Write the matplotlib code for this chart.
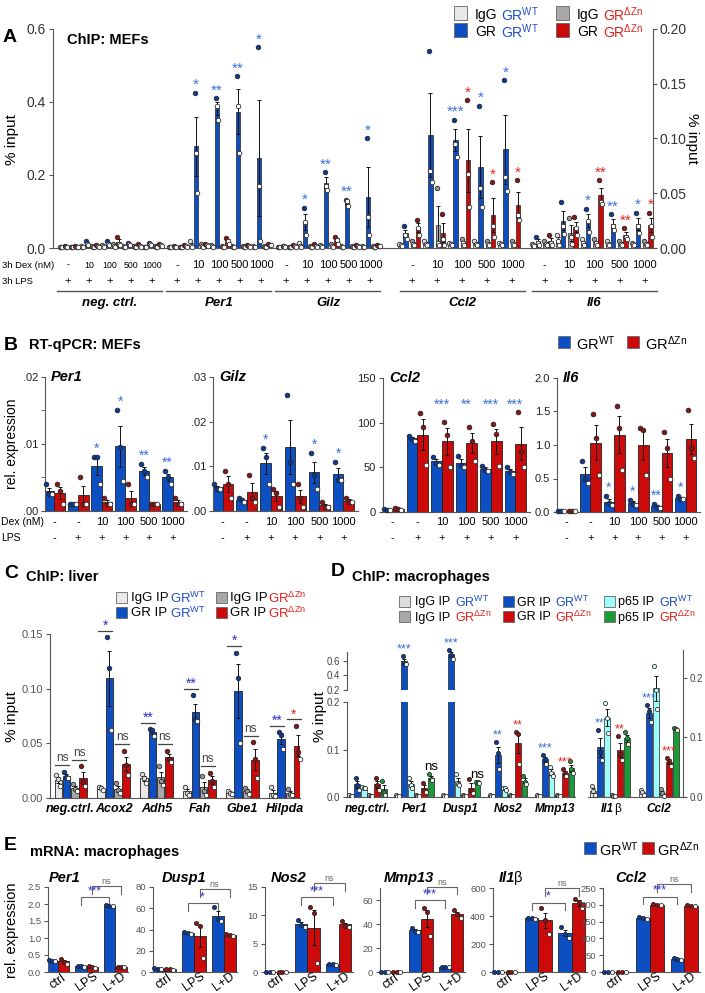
import numpy as np
import matplotlib
matplotlib.use('Agg')
import matplotlib.pyplot as plt
from matplotlib.transforms import blended_transform_factory as blend
from matplotlib.patches import Rectangle

plt.rcParams['font.family'] = ['Liberation Sans', 'DejaVu Sans']
plt.rcParams['mathtext.fontset'] = 'custom'
plt.rcParams['mathtext.rm'] = 'Liberation Sans'
plt.rcParams['mathtext.it'] = 'Liberation Sans:italic'
plt.rcParams['mathtext.bf'] = 'Liberation Sans:bold'

# ======================= DATA =======================
DEX_A = ['-', '10', '100', '500', '1000']
A_GENES_L = ['neg. ctrl.', 'Per1', 'Gilz']
A_GENES_R = ['Ccl2', 'Il6']
# Panel A: ChIP MEFs (% input), 5 Dex doses x 3 replicates
A_neg_igg_wt = [[.004,.003,.002],[.005,.004,.002],[.008,.005,.003],[.005,.004,.003],[.004,.003,.002]]
A_neg_gr_wt  = [[.006,.004,.003],[.020,.010,.007],[.020,.012,.009],[.015,.010,.007],[.013,.010,.007]]
A_neg_igg_dz = [[.004,.003,.002],[.005,.004,.003],[.012,.006,.003],[.005,.003,.002],[.005,.004,.003]]
A_neg_gr_dz  = [[.006,.004,.003],[.008,.005,.003],[.030,.012,.008],[.010,.006,.004],[.010,.008,.006]]
A_per1_igg_wt = [[.004,.003,.002],[.020,.005,.003],[.008,.005,.003],[.006,.004,.003],[.005,.004,.003]]
A_per1_gr_wt  = [[.006,.004,.003],[.425,.26,.15],[.41,.39,.35],[.47,.39,.26],[.55,.17,.02]]
A_per1_igg_dz = [[.004,.003,.002],[.010,.005,.003],[.006,.004,.003],[.005,.004,.003],[.005,.004,.003]]
A_per1_gr_dz  = [[.007,.005,.004],[.012,.008,.006],[.028,.020,.012],[.008,.006,.004],[.012,.009,.007]]
A_gilz_igg_wt = [[.004,.003,.002],[.015,.006,.003],[.008,.005,.003],[.006,.004,.003],[.005,.004,.003]]
A_gilz_gr_wt  = [[.006,.005,.004],[.11,.07,.035],[.207,.17,.16],[.132,.13,.115],[.30,.085,.035]]
A_gilz_igg_dz = [[.004,.003,.002],[.006,.004,.003],[.010,.006,.004],[.005,.004,.003],[.005,.004,.003]]
A_gilz_gr_dz  = [[.008,.006,.004],[.010,.006,.004],[.030,.022,.010],[.008,.006,.004],[.008,.006,.005]]
A_ccl2_igg_wt = [[.004,.003,.002],[.006,.004,.003],[.005,.004,.003],[.006,.004,.003],[.005,.004,.003]]
A_ccl2_gr_wt  = [[.020,.012,.008],[.18,.07,.06],[.117,.095,.083],[.13,.055,.037],[.153,.065,.052]]
A_ccl2_igg_dz = [[.006,.004,.003],[.055,.005,.003],[.008,.005,.003],[.006,.004,.003],[.006,.004,.003]]
A_ccl2_gr_dz  = [[.026,.018,.012],[.031,.008,.003],[.135,.068,.037],[.060,.020,.010],[.062,.030,.026]]
A_il6_igg_wt = [[.004,.003,.002],[.012,.006,.003],[.008,.005,.003],[.006,.004,.003],[.005,.004,.003]]
A_il6_gr_wt  = [[.010,.005,.003],[.042,.020,.013],[.036,.025,.015],[.031,.020,.016],[.032,.020,.014]]
A_il6_igg_dz = [[.006,.004,.003],[.027,.010,.004],[.008,.005,.003],[.006,.004,.003],[.006,.004,.003]]
A_il6_gr_dz  = [[.012,.005,.003],[.028,.018,.012],[.062,.042,.040],[.018,.010,.008],[.032,.020,.010]]
A_neg_star_wt = ['', '', '', '', '']
A_neg_star_dz = ['', '', '', '', '']
A_per1_star_wt = ['', '*', '**', '**', '*']
A_per1_star_dz = ['', '', '', '', '']
A_gilz_star_wt = ['', '*', '**', '**', '*']
A_gilz_star_dz = ['', '', '', '', '']
A_ccl2_star_wt = ['', '', '***', '*', '*']
A_ccl2_star_dz = ['', '', '*', '*', '*']
A_il6_star_wt = ['', '', '*', '**', '*']
A_il6_star_dz = ['', '', '**', '**', '*']

# Panel B: RT-qPCR MEFs (rel. expression), 6 conditions x 3 replicates
DEX_B = ['-', '-', '10', '100', '500', '1000']
LPS_B = ['-', '+', '+', '+', '+', '+']
B_GENES = ['Per1', 'Gilz', 'Ccl2', 'Il6']
B_per1_wt = [[.004,.0025,.0025],[.001,.001,.001],[.008,.008,.004],[.015,.0095,.0045],[.007,.006,.005],[.006,.005,.004]]
B_per1_dz = [[.004,.003,.001],[.005,.001,.001],[.002,.001,.001],[.004,.001,.001],[.001,.001,.001],[.002,.001,.001]]
B_gilz_wt = [[.006,.005,.005],[.003,.0025,.002],[.014,.012,.006],[.026,.011,.006],[.013,.008,.005],[.011,.007,.007]]
B_gilz_dz = [[.009,.006,.003],[.008,.003,.002],[.005,.004,.001],[.006,.003,.001],[.002,.001,.001],[.003,.002,.002]]
B_ccl2_wt = [[3,2,2],[85,82,80],[62,55,53],[63,53,50],[52,47,46],[50,45,43]]
B_ccl2_dz = [[4,3,2],[111,95,53],[101,86,50],[95,80,57],[98,87,52],[112,67,50]]
B_il6_wt = [[.01,.01,.01],[.76,.50,.44],[.24,.13,.10],[.18,.12,.10],[.12,.07,.06],[.24,.20,.20]]
B_il6_dz = [[.01,.01,.01],[1.46,1.10,.55],[1.58,1.25,.63],[1.25,1.22,.55],[1.20,.95,.50],[1.52,.95,.80]]
B_per1_star = ['', '', '*', '*', '**', '**']
B_gilz_star = ['', '', '*', '', '*', '*']
B_ccl2_star = ['', '', '***', '**', '***', '***']
B_il6_star = ['', '', '*', '*', '**', '*']

# Panel C: ChIP liver (% input), 6 loci x 3 replicates
C_GENES = ['neg.ctrl.', 'Acox2', 'Adh5', 'Fah', 'Gbe1', 'Hilpda']
C_igg_wt = [[.021,.017,.011],[.010,.009,.007],[.022,.018,.014],[.010,.005,.003],[.006,.005,.004],[.010,.003,.002]]
C_gr_wt  = [[.024,.019,.018],[.147,.119,.062],[.063,.062,.057],[.094,.072,.070],[.133,.110,.050],[.060,.058,.045]]
C_igg_dz = [[.013,.008,.006],[.014,.007,.005],[.029,.016,.012],[.020,.006,.003],[.009,.006,.004],[.008,.004,.003]]
C_gr_dz  = [[.029,.015,.011],[.043,.030,.021],[.043,.036,.033],[.023,.016,.010],[.051,.036,.018],[.066,.042,.036]]
C_sig_wt = ['ns', '*', '**', '**', '*', '**']
C_sig_dz = ['ns', 'ns', 'ns', 'ns', 'ns', '*']

# Panel D: ChIP macrophages (% input)
D_GENES_L = ['neg.ctrl.', 'Per1', 'Dusp1', 'Nos2', 'Mmp13']
D_GENES_R = ['Il1', 'Ccl2']
D_igg_wt_L = [[.005,.003,.002],[.005,.003,.002],[.005,.003,.002],[.005,.003,.002],[.005,.003,.002]]
D_gr_wt_L  = [[.040,.025,.015],[.66,.57,.55],[.75,.68,.63],[.115,.092,.059],[.088,.080,.070]]
D_p65_wt_L = [[.022,.020,.018],[.040,.025,.018],[.048,.028,.025],[.020,.018,.015],[.064,.050,.045]]
D_igg_dz_L = [[.005,.003,.002],[.005,.003,.002],[.005,.003,.002],[.005,.003,.002],[.005,.003,.002]]
D_gr_dz_L  = [[.040,.026,.014],[.030,.015,.010],[.038,.014,.008],[.137,.133,.070],[.059,.050,.045]]
D_p65_dz_L = [[.034,.010,.004],[.049,.037,.035],[.032,.031,.030],[.045,.031,.028],[.075,.058,.050]]
D_igg_wt_R = [[.018,.010,.004],[.012,.008,.004]]
D_gr_wt_R  = [[.113,.075,.062],[.154,.145,.126]]
D_p65_wt_R = [[.158,.133,.108],[.220,.180,.148]]
D_igg_dz_R = [[.004,.002,.001],[.014,.006,.002]]
D_gr_dz_R  = [[.103,.072,.062],[.066,.060,.052]]
D_p65_dz_R = [[.109,.099,.089],[.116,.114,.112]]
D_star_gr_wt_L = ['', '***', '***', '**', '***']
D_star_gr_dz_L = ['', '', '', '**', '***']
D_star_p65_dz_L = ['', 'ns', 'ns', '', '']
D_star_gr_wt_R = ['**', '***']
D_star_gr_dz_R = ['**', '***']

# Panel E: mRNA macrophages (rel. expression), ctrl / LPS / L+D x 3 replicates
E_GENES = ['Per1', 'Dusp1', 'Nos2', 'Mmp13', 'Il1', 'Ccl2']
E_COND = ['ctrl', 'LPS', 'L+D']
E_per1_wt = [[.35,.32,.31],[.18,.17,.16],[1.97,1.95,1.93]]
E_per1_dz = [[.38,.30,.25],[.17,.15,.13],[.16,.15,.14]]
E_dusp1_wt = [[3.5,3.0,2.5],[38,37,36],[61,50,48]]
E_dusp1_dz = [[3.0,2.5,2.0],[46,43,13],[36,35,34]]
E_nos2_wt = [[.05,.04,.03],[9.2,8.3,8.0],[1.5,1.4,1.3]]
E_nos2_dz = [[.05,.04,.03],[11.5,10.4,1.6],[9.0,8.2,8.0]]
E_mmp13_wt = [[.3,.2,.2],[37,34,33],[4.5,4.0,3.8]]
E_mmp13_dz = [[.3,.2,.2],[53,50,30],[52,48,45]]
E_il1b_wt = [[2,1.5,1],[388,385,382],[320,275,245]]
E_il1b_dz = [[2,1.5,1],[460,370,275],[525,500,455]]
E_ccl2_wt = [[1,.8,.6],[165,160,158],[43,38,37]]
E_ccl2_dz = [[1,.8,.6],[202,200,198],[200,197,195]]
E_ymax = [2.5, 80, 15, 70, 600, 250]
E_yticks = [[0,.5,1,1.5,2,2.5],[0,20,40,60,80],[0,5,10,15],[0,20,40,60],[0,200,400,600],[0,50,100,150,200,250]]
E_sig = ['***', '*', '***', '***', '*', '***']
E_br_lo = [2.2, 65, 13.2, 60, 494, 224]
E_br_hi = [2.53, 78, 15.7, 71, 600, 262]

# ======================= STYLE =======================
BLUE = '#0c4fc2'; RED = '#cc0a0a'; LGRAY = '#e8e8e8'; GRAY = '#a8a8a8'
CYAN = '#9ffcfc'; GREEN = '#1b9a3a'
DBLUE = '#0a3a9a'; DRED = '#8b1414'
SBLUE = '#3b6fd6'; SRED = '#e3261f'; SBLUE2 = '#2f2fcc'
TXTB = '#1f4fc9'; TXTR = '#e0201a'
SUPW = r'GR$^{\mathregular{WT}}$'
SUPD = r'GR$^{\mathregular{ΔZn}}$'

W, H = 705, 993
fig = plt.figure(figsize=(W/100, H/100), dpi=100)


def AX(x0, y0, x1, y1):
    return fig.add_axes([x0/W, 1-y1/H, (x1-x0)/W, (y1-y0)/H])


def T(x, y, s, **kw):
    kw.setdefault('va', 'center')
    return fig.text(x/W, 1-y/H, s, **kw)


def style(ax, left=True, right=False, bottom=True, fs=8, tc='#333'):
    for side in ['top', 'right', 'left', 'bottom']:
        ax.spines[side].set_visible(False)
    ax.spines['left'].set_visible(left)
    ax.spines['right'].set_visible(right)
    ax.spines['bottom'].set_visible(bottom)
    for s in ax.spines.values():
        s.set_color('#555'); s.set_linewidth(0.8)
    ax.tick_params(axis='y', labelsize=fs, labelcolor=tc, color='#555', length=3, width=0.8,
                   left=left, right=right, labelleft=left, labelright=right, pad=2)
    ax.tick_params(axis='x', bottom=False, labelbottom=False)
    ax.patch.set_alpha(0)


def bars(ax, xs, reps, color, width, dot, filled=(True, True, False), ms=3.4, stars=None,
         scol=None, sfs=10, spad=1.0, clip=False, lw=0.6):
    reps = np.asarray(reps, float)
    m = reps.mean(1)
    s = reps.std(1, ddof=1) / np.sqrt(reps.shape[1])
    ax.bar(xs, m, width, color=color, edgecolor='#222', linewidth=lw, zorder=2)
    ax.errorbar(xs, m, yerr=s, fmt='none', ecolor='#111', elinewidth=0.7, capsize=1.6,
                capthick=0.7, zorder=3)
    jit = np.array([-0.28, 0.0, 0.28]) * width
    for i, x in enumerate(xs):
        for j, v in enumerate(reps[i]):
            fc = dot if filled[j] else 'white'
            ax.plot(x + jit[j], v, 'o', ms=ms, mfc=fc, mec='#222', mew=0.55, zorder=4,
                    clip_on=clip)
    if stars:
        for i, x in enumerate(xs):
            if stars[i]:
                top = max(reps[i].max(), m[i] + s[i])
                ax.annotate(stars[i], (x, top), xytext=(0, spad), textcoords='offset points',
                            ha='center', va='bottom', color=scol, fontsize=sfs,
                            annotation_clip=False, zorder=5)
    return m, s


def xlab(ax, x, ypx, s, **kw):
    ax.text(x, 1-ypx/H, s, transform=blend(ax.transData, fig.transFigure), ha='center',
            va='center', clip_on=False, **kw)


def hline(ax, x0, x1, ypx, **kw):
    ax.plot([x0, x1], [1-ypx/H]*2, transform=blend(ax.transData, fig.transFigure),
            clip_on=False, **kw)


def square(x, y, size, color):
    fig.patches.append(Rectangle(((x-size/2)/W, 1-(y+size/2)/H), size/W, size/H,
                                 transform=fig.transFigure, facecolor=color,
                                 edgecolor='#666', lw=0.6))


def leg(x, y, color, parts, fs, size=12):
    square(x, y, size, color)
    for tx, s, c in parts:
        T(tx, y, s, color=c, fontsize=fs, ha='left', va='center_baseline')

# ======================= PANEL A =======================
T(3, 37, 'A', fontsize=14, fontweight='bold')
T(67, 40, 'ChIP: MEFs', fontsize=10.5, fontweight='bold')
leg(460, 13, LGRAY, [(475, 'IgG', 'black'), (501, SUPW, TXTB)], 10, 13)
leg(460, 30, BLUE, [(475, 'GR', 'black'), (501, SUPW, TXTB)], 10, 13)
leg(562, 13, GRAY, [(577, 'IgG', 'black'), (603, SUPD, TXTR)], 10, 13)
leg(562, 30, RED, [(577, 'GR', 'black'), (603, SUPD, TXTR)], 10, 13)

axAL = AX(53, 29, 392, 248)
axAR = AX(392, 29, 653, 248)
style(axAL, fs=10)
style(axAR, left=False, right=True, fs=10)
axAL.set_ylim(0, 0.6); axAL.set_yticks([0, .2, .4, .6]); axAL.set_yticklabels(['0.0', '0.2', '0.4', '0.6'])
axAR.set_ylim(0, 0.2); axAR.set_yticks([0, .05, .1, .15, .2])
axAR.set_yticklabels(['0.00', '0.05', '0.10', '0.15', '0.20'])
axAL.set_xlim(-0.71, 15.43); axAR.set_xlim(-0.8, 9.64)
T(12, 140, '% input', fontsize=11, rotation=90, ha='center')
T(692, 138, '% input', fontsize=11, rotation=270, ha='center')
T(2, 265, '3h Dex (nM)', fontsize=6.8, ha='left')
T(2, 281, '3h LPS', fontsize=6.8, ha='left')

A_sets_L = [
    (A_neg_igg_wt, A_neg_gr_wt, A_neg_igg_dz, A_neg_gr_dz, A_neg_star_wt, A_neg_star_dz),
    (A_per1_igg_wt, A_per1_gr_wt, A_per1_igg_dz, A_per1_gr_dz, A_per1_star_wt, A_per1_star_dz),
    (A_gilz_igg_wt, A_gilz_gr_wt, A_gilz_igg_dz, A_gilz_gr_dz, A_gilz_star_wt, A_gilz_star_dz)]
A_sets_R = [
    (A_ccl2_igg_wt, A_ccl2_gr_wt, A_ccl2_igg_dz, A_ccl2_gr_dz, A_ccl2_star_wt, A_ccl2_star_dz),
    (A_il6_igg_wt, A_il6_gr_wt, A_il6_igg_dz, A_il6_gr_dz, A_il6_star_wt, A_il6_star_dz)]

for ax, sets, genes, starts, offs, wid in [
        (axAL, A_sets_L, A_GENES_L, [0, 5.19, 10.38], [-0.33, -0.1, 0.19, 0.42], 0.22),
        (axAR, A_sets_R, A_GENES_R, [0, 5.3], [-0.46, -0.27, 0.04, 0.24], 0.18)]:
    for gi, (st, gname, data) in enumerate(zip(starts, genes, sets)):
        x = st + np.arange(5)
        cols = [LGRAY, BLUE, GRAY, RED]
        dots = ['#dddddd', DBLUE, '#999999', DRED]
        for k in range(4):
            stars = data[4] if k == 1 else (data[5] if k == 3 else None)
            scol = SBLUE if k == 1 else SRED
            bars(ax, x + offs[k], data[k], cols[k], wid, dots[k], filled=(True, False, False),
                 ms=3.3, stars=stars, scol=scol, sfs=11, spad=0.5, lw=0.5)
        fsd = 6.3 if gname.startswith('neg') else 8
        for c in range(5):
            xlab(ax, x[c], 265, DEX_A[c], fontsize=fsd)
            xlab(ax, x[c], 281, '+', fontsize=8)
        hline(ax, x[0]-0.5, x[-1]+0.5, 291, color='#555', lw=1)
        xlab(ax, x[2], 303, gname, fontsize=9.5, fontstyle='italic', fontweight='bold')

# ======================= PANEL B =======================
T(4, 345, 'B', fontsize=14, fontweight='bold')
T(29, 345, 'RT-qPCR: MEFs', fontsize=10.5, fontweight='bold')
leg(564, 342, BLUE, [(576, SUPW, 'black')], 10.5, 12)
leg(633, 342, RED, [(645, SUPD, 'black')], 10.5, 12)
T(12, 444, 'rel. expression', fontsize=10, rotation=90, ha='center')
T(1, 522, 'Dex (nM)', fontsize=7.5, ha='left')
T(1, 538, 'LPS', fontsize=7.5, ha='left')

B_axes_px = [(45, 377, 187, 511), (213, 377, 358, 511), (383, 378, 530, 512), (557, 378, 700, 512)]
B_lims = [(0.02, [0, .01, .02], ['.00', '.01', '.02']),
          (0.03, [0, .01, .02, .03], ['.00', '.01', '.02', '.03']),
          (150, [0, 50, 100, 150], ['0', '50', '100', '150']),
          (2.0, [0, .5, 1, 1.5, 2], ['0.0', '0.5', '1.0', '1.5', '2.0'])]
B_data = [(B_per1_wt, B_per1_dz, B_per1_star), (B_gilz_wt, B_gilz_dz, B_gilz_star),
          (B_ccl2_wt, B_ccl2_dz, B_ccl2_star), (B_il6_wt, B_il6_dz, B_il6_star)]
for bi in range(4):
    ax = AX(*B_axes_px[bi])
    style(ax, fs=8, tc='#222')
    ymax, tks, tls = B_lims[bi]
    ax.set_ylim(0, ymax); ax.set_yticks(tks); ax.set_yticklabels(tls)
    if bi == 0:
        ax.set_yticks([.005, .015], minor=True)
        ax.tick_params(axis='y', which='minor', length=3, color='#555')
    ax.set_xlim(-0.4, 5.6)
    x = np.arange(6)
    wt, dz, st = B_data[bi]
    if bi == 2:
        bars(ax, x-0.22, wt, BLUE, 0.44, DBLUE)
        for i, s in enumerate(st):
            if s:
                ax.text(x[i], 112, s, ha='center', va='bottom', color=SBLUE, fontsize=10)
    else:
        bars(ax, x-0.22, wt, BLUE, 0.44, DBLUE, stars=st, scol=SBLUE, sfs=10, spad=1)
    bars(ax, x+0.22, dz, RED, 0.44, DRED)
    ax.text(0.04, 1.0, B_GENES[bi], transform=ax.transAxes, fontsize=10.5, fontstyle='italic',
            fontweight='bold', ha='left', va='center')
    for c in range(6):
        xlab(ax, x[c], 522, DEX_B[c], fontsize=8)
        xlab(ax, x[c], 538, LPS_B[c], fontsize=8)

# ======================= PANEL C =======================
T(4, 573, 'C', fontsize=14, fontweight='bold')
T(26, 577, 'ChIP: liver', fontsize=10.5, fontweight='bold')
leg(122, 597, LGRAY, [(131, 'IgG IP', 'black'), (170, SUPW, TXTB)], 9.5, 11)
leg(122, 612, BLUE, [(131, 'GR IP', 'black'), (170, SUPW, TXTB)], 9.5, 11)
leg(221, 597, GRAY, [(230, 'IgG IP', 'black'), (268, SUPD, TXTR)], 9.5, 11)
leg(221, 612, RED, [(230, 'GR IP', 'black'), (268, SUPD, TXTR)], 9.5, 11)
axC = AX(50, 634, 300, 798)
style(axC, fs=8, tc='#555')
axC.set_ylim(0, 0.15); axC.set_yticks([0, .05, .1, .15])
axC.set_yticklabels(['0.00', '0.05', '0.10', '0.15'])
axC.set_xlim(-0.48, 5.34)
T(12, 717, '% input', fontsize=11, rotation=90, ha='center')
xc = np.arange(6)
offC = [-0.29, -0.1, 0.1, 0.29]
mC = []
for k, (d, col, dot) in enumerate([(C_igg_wt, LGRAY, '#dddddd'), (C_gr_wt, BLUE, DBLUE),
                                    (C_igg_dz, GRAY, '#999999'), (C_gr_dz, RED, DRED)]):
    m, s = bars(axC, xc + offC[k], d, col, 0.17, dot, ms=3.3)
    mC.append(np.maximum(np.asarray(d).max(1), m + s))
for i in range(6):
    for pair, sig, scol in [((0, 1), C_sig_wt[i], SBLUE2), ((2, 3), C_sig_dz[i], SRED)]:
        top = max(mC[pair[0]][i], mC[pair[1]][i]) + 0.006
        xa, xb = xc[i] + offC[pair[0]] - 0.07, xc[i] + offC[pair[1]] + 0.07
        axC.plot([xa, xb], [top, top], color='#444', lw=0.9, clip_on=False)
        if sig == 'ns':
            axC.text((xa+xb)/2, top + 0.001, 'ns', ha='center', va='bottom', color='#444', fontsize=8.5)
        else:
            axC.text((xa+xb)/2, top - 0.002, sig, ha='center', va='bottom', color=scol, fontsize=10)
    xlab(axC, xc[i], 809, C_GENES[i], fontsize=9, fontstyle='italic', fontweight='bold')

# ======================= PANEL D =======================
T(331, 572, 'D', fontsize=14, fontweight='bold')
T(352, 577, 'ChIP: macrophages', fontsize=10.5, fontweight='bold')
leg(404, 601, '#dcdcdc', [(415, 'IgG IP', 'black'), (455, SUPW, TXTB)], 9, 11)
leg(404, 616, GRAY, [(415, 'IgG IP', 'black'), (455, SUPD, TXTR)], 9, 11)
leg(508, 601, BLUE, [(517, 'GR IP', 'black'), (555, SUPW, TXTB)], 9, 11)
leg(508, 616, RED, [(517, 'GR IP', 'black'), (555, SUPD, TXTR)], 9, 11)
leg(609, 601, CYAN, [(618, 'p65 IP', 'black'), (659, SUPW, TXTB)], 9, 11)
leg(609, 616, GREEN, [(618, 'p65 IP', 'black'), (659, SUPD, TXTR)], 9, 11)

axDU = AX(347, 652, 575, 690)
axDL = AX(347, 702, 575, 797)
axDR = AX(588, 650, 683, 797)
style(axDU, bottom=False, fs=7, tc='#444')
style(axDL, fs=7, tc='#444')
style(axDR, left=False, right=True, fs=7, tc='#444')
axDU.set_ylim(0.2, 0.72); axDU.set_yticks([.2, .4, .6]); axDU.set_yticklabels(['0.2', '0.4', '0.6'])
axDL.set_ylim(0, 0.2); axDL.set_yticks([0, .1, .2]); axDL.set_yticklabels(['0.0', '0.1', '0.2'])
axDR.set_ylim(0, 0.247); axDR.set_yticks([0, .1, .2]); axDR.set_yticklabels(['0.0', '0.1', '0.2'])
for a in (axDU, axDL):
    a.set_xlim(-0.43, 4.43)
axDR.set_xlim(-0.45, 1.49)
T(320, 717, '% input', fontsize=11, rotation=90, ha='center')
offD = (np.arange(6) - 2.5) * 0.142
wD = 0.12
D_cols = [LGRAY, BLUE, CYAN, GRAY, RED, GREEN]
D_dots = ['#dddddd', DBLUE, '#d8ffff', '#999999', DRED, GREEN]
xdl = np.arange(5)
D_L = [D_igg_wt_L, D_gr_wt_L, D_p65_wt_L, D_igg_dz_L, D_gr_dz_L, D_p65_dz_L]
D_LS = [None, [s if i not in (1, 2) else '' for i, s in enumerate(D_star_gr_wt_L)], None,
        None, D_star_gr_dz_L, D_star_p65_dz_L]
D_LC = [None, SBLUE, None, None, SRED, 'black']
for k in range(6):
    bars(axDL, xdl + offD[k], D_L[k], D_cols[k], wD, D_dots[k], ms=3.0, stars=D_LS[k],
         scol=D_LC[k], sfs=9 if k != 5 else 9.5, spad=0.5, clip=True, lw=0.5)
# broken (upper) segment for the very high GR WT bars
big = [1, 2]
bars(axDU, xdl[big] + offD[1], [D_gr_wt_L[i] for i in big], BLUE, wD, DBLUE, ms=3.0,
     stars=[D_star_gr_wt_L[i] for i in big], scol=SBLUE, sfs=9, spad=0.5, lw=0.5)
xdr = np.arange(2)
D_R = [D_igg_wt_R, D_gr_wt_R, D_p65_wt_R, D_igg_dz_R, D_gr_dz_R, D_p65_dz_R]
D_RS = [None, D_star_gr_wt_R, None, None, D_star_gr_dz_R, None]
for k in range(6):
    bars(axDR, xdr + offD[k] * 47/49, D_R[k], D_cols[k], wD, D_dots[k], ms=3.0, stars=D_RS[k],
         scol=D_LC[k], sfs=9, spad=0.5, lw=0.5)
for i in range(5):
    xlab(axDL, xdl[i], 809, D_GENES_L[i], fontsize=8.5, fontstyle='italic', fontweight='bold')
for i in range(2):
    if D_GENES_R[i] == 'Il1':
        axDR.annotate('Il1', (xdr[i], 1-809/H), xycoords=blend(axDR.transData, fig.transFigure),
                      xytext=(3, 0), textcoords='offset points', ha='right', va='center',
                      fontsize=8.5, fontstyle='italic', fontweight='bold', annotation_clip=False)
        axDR.annotate('β', (xdr[i], 1-809/H), xycoords=blend(axDR.transData, fig.transFigure),
                      xytext=(2.6, 0), textcoords='offset points', ha='left', va='center',
                      fontsize=8.5, annotation_clip=False)
    else:
        xlab(axDR, xdr[i], 809, D_GENES_R[i], fontsize=8.5, fontstyle='italic', fontweight='bold')

# ======================= PANEL E =======================
T(4, 845, 'E', fontsize=14, fontweight='bold')
T(30, 852, 'mRNA: macrophages', fontsize=10.5, fontweight='bold')
leg(590, 848, BLUE, [(599, SUPW, 'black')], 10.5, 12)
leg(648, 848, RED, [(657, SUPD, 'black')], 10.5, 12)
T(12, 930, 'rel. expression', fontsize=10.5, rotation=90, ha='center')
E_axes_px = [(48, 887, 128, 972), (153, 887, 237, 972), (265, 887, 353, 972),
             (380, 888, 465, 972), (493, 888, 587, 972), (603, 888, 700, 972)]
E_title_x = [49, 162, 271, 384, 499, 615]
E_data = [(E_per1_wt, E_per1_dz), (E_dusp1_wt, E_dusp1_dz), (E_nos2_wt, E_nos2_dz),
          (E_mmp13_wt, E_mmp13_dz), (E_il1b_wt, E_il1b_dz), (E_ccl2_wt, E_ccl2_dz)]
for ei in range(6):
    ax = AX(*E_axes_px[ei])
    style(ax, fs=6.8, tc='#555')
    ymax = E_ymax[ei]
    ax.set_ylim(0, ymax); ax.set_yticks(E_yticks[ei])
    ax.set_yticklabels([('%g' % v) if ymax > 5 else ('%.1f' % v) for v in E_yticks[ei]])
    ax.set_xlim(-0.35, 2.45)
    x = np.arange(3)
    wt, dz = E_data[ei]
    bars(ax, x-0.2, wt, BLUE, 0.4, DBLUE, ms=3.0)
    bars(ax, x+0.2, dz, RED, 0.4, DRED, ms=3.0)
    drop = 0.09 * ymax
    y1, y2 = E_br_lo[ei], E_br_hi[ei]
    ax.plot([0.8, 0.8, 1.8, 1.8], [y1-drop, y1, y1, y1-drop], color='#666', lw=0.8, clip_on=False)
    ax.text(1.3, y1, E_sig[ei], ha='center', va='bottom', color=SBLUE2, fontsize=8.5)
    ax.plot([1.2, 1.2, 2.2, 2.2], [y2-drop, y2, y2, y2-drop], color='#666', lw=0.8, clip_on=False)
    ax.text(1.7, y2, 'ns', ha='center', va='bottom', color='#666', fontsize=6.5)
    for c in range(3):
        xlab(ax, x[c], 982, E_COND[c], fontsize=9, rotation=35)
    if E_GENES[ei] == 'Il1':
        T(E_title_x[ei], 878, 'Il1', fontsize=10.5, fontstyle='italic', fontweight='bold', ha='left')
        T(E_title_x[ei] + 15, 878, 'β', fontsize=10.5, ha='left')
    else:
        T(E_title_x[ei], 878, E_GENES[ei], fontsize=10.5, fontstyle='italic', fontweight='bold', ha='left')

fig.savefig('out.png', dpi=100)
